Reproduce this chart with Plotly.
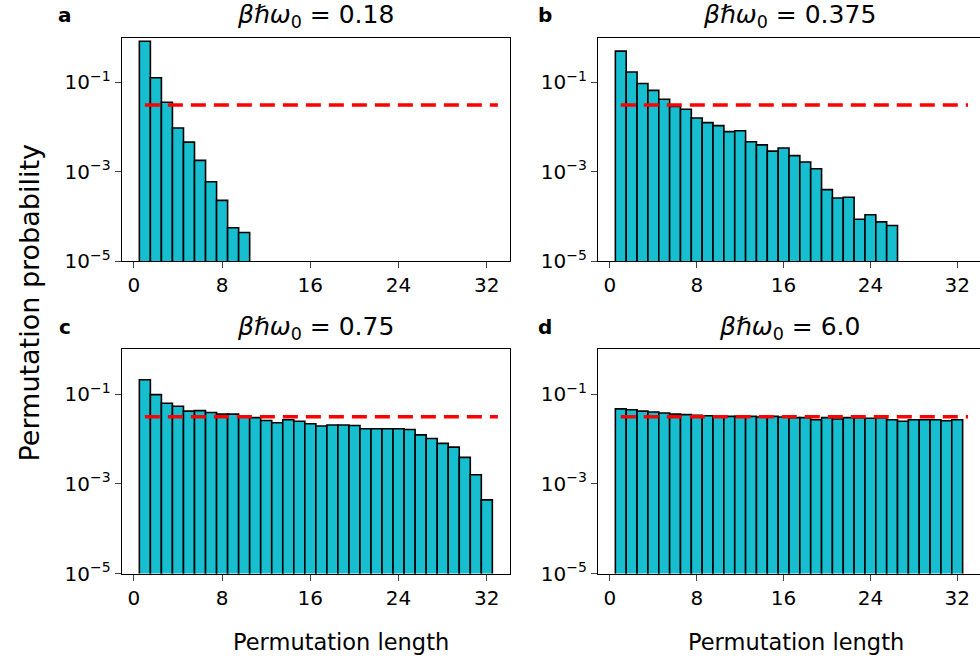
import plotly.graph_objects as go

# Permutation length histograms (probability per cycle length) for four temperatures
lengths_a = list(range(1, 11))
prob_a = [0.83, 0.127, 0.036, 0.0095, 0.0046, 0.0018, 0.0006, 0.00023, 5.6e-5, 4.4e-5]

lengths_b = list(range(1, 27))
prob_b = [0.50, 0.17, 0.094, 0.066, 0.042, 0.029, 0.025, 0.016, 0.0126, 0.0108,
          0.0079, 0.0083, 0.0047, 0.0040, 0.0029, 0.0034, 0.0023, 0.00166, 0.00117,
          0.00040, 0.00026, 0.00027, 8.7e-5, 1.1e-4, 7.6e-5, 6.3e-5]

lengths_c = list(range(1, 33))
prob_c = [0.21, 0.098, 0.063, 0.054, 0.042, 0.043, 0.039, 0.036, 0.036, 0.032,
          0.030, 0.026, 0.023, 0.027, 0.025, 0.022, 0.0196, 0.0206, 0.0206, 0.020,
          0.017, 0.017, 0.017, 0.017, 0.0163, 0.0124, 0.0103, 0.0080, 0.0066,
          0.0039, 0.0016, 0.00044]

lengths_d = list(range(1, 33))
prob_d = [0.047, 0.045, 0.042, 0.040, 0.038, 0.036, 0.035, 0.034, 0.033, 0.033,
          0.032, 0.032, 0.032, 0.031, 0.032, 0.031, 0.030, 0.030, 0.027, 0.030,
          0.028, 0.030, 0.030, 0.029, 0.030, 0.027, 0.025, 0.027, 0.027, 0.027,
          0.0256, 0.027]

# Uniform reference level 1/N for N = 32 particles
n_particles = 32
uniform_x = list(range(1, n_particles + 2))
uniform_y = [1.0 / n_particles] * len(uniform_x)

titles = ["0.18", "0.375", "0.75", "6.0"]
panel_letters = ["a", "b", "c", "d"]
x_ticks = [0, 8, 16, 24, 32]
y_tickvals = [1e-5, 1e-3, 1e-1]
y_ticktext = ["10<sup>\u22125</sup>", "10<sup>\u22123</sup>", "10<sup>\u22121</sup>"]

W, H = 980, 672
BAR_COLOR = "#17becf"
FONT = "DejaVu Sans, Arial, sans-serif"

# panel boxes in pixels: (left, right, top, bottom)
boxes = [
    (121.7, 510.0, 38.3, 266.0),
    (598.0, 980.0, 38.3, 266.0),
    (121.7, 510.0, 355.7, 584.0),
    (598.0, 980.0, 355.7, 584.0),
]

data = [(lengths_a, prob_a), (lengths_b, prob_b), (lengths_c, prob_c), (lengths_d, prob_d)]

fig = go.Figure()
layout = dict(
    width=W, height=H,
    margin=dict(l=0, r=0, t=0, b=0),
    paper_bgcolor="white", plot_bgcolor="white",
    showlegend=False,
    font=dict(family=FONT, size=20, color="black"),
    annotations=[],
)

for i, ((xs, ys), box) in enumerate(zip(data, boxes)):
    k = "" if i == 0 else str(i + 1)
    xa, ya = "x" + k, "y" + k
    fig.add_trace(go.Bar(
        x=xs, y=ys, width=1.0, xaxis=xa, yaxis=ya,
        marker=dict(color=BAR_COLOR, line=dict(color="black", width=1.6)),
    ))
    fig.add_trace(go.Scatter(
        x=uniform_x, y=uniform_y, mode="lines", xaxis=xa, yaxis=ya,
        line=dict(color="red", width=3.5, dash="15px,8px"),
    ))
    left, right, top, bottom = box
    right_edge_open = right >= W
    layout["xaxis" + k] = dict(
        domain=[left / W, min(right / W, 1.0)], anchor=ya,
        range=[-1.1, 34.1], tickvals=x_ticks, ticks="outside", ticklen=6,
        tickwidth=1.3, showline=True, linecolor="black", linewidth=1.3,
        mirror=True, showgrid=False, zeroline=False,
        tickfont=dict(size=20, family=FONT),
    )
    layout["yaxis" + k] = dict(
        domain=[1 - bottom / H, 1 - top / H], anchor=xa,
        type="log", range=[-5, 0], tickvals=y_tickvals, ticktext=y_ticktext,
        ticks="outside", ticklen=6, tickwidth=1.3, showline=True,
        linecolor="black", linewidth=1.3, mirror=not right_edge_open,
        showgrid=False, zeroline=False, tickfont=dict(size=20, family=FONT),
    )
    cx = (left + min(right, 980.0)) / 2
    ty = top - 22
    layout["annotations"].append(dict(
        x=cx / W, y=1 - ty / H, xref="paper", yref="paper", showarrow=False,
        xanchor="center", yanchor="middle",
        text="<i>\u03b2\u210f\u03c9</i><sub>0</sub> = " + titles[i],
        font=dict(size=25, family=FONT),
    ))
    layout["annotations"].append(dict(
        x=(65 if left < 300 else 545) / W, y=1 - (top - 23) / H, xref="paper", yref="paper",
        showarrow=False, xanchor="center", yanchor="middle",
        text="<b>" + panel_letters[i] + "</b>", font=dict(size=20, family=FONT),
    ))

layout["annotations"].append(dict(
    x=29 / W, y=1 - 309 / H, xref="paper", yref="paper", showarrow=False,
    xanchor="center", yanchor="middle", textangle=-90,
    text="Permutation probability", font=dict(size=27, family=FONT),
))
for cx in (341, 796):
    layout["annotations"].append(dict(
        x=cx / W, y=1 - 654 / H, xref="paper", yref="paper", showarrow=False,
        xanchor="center", yanchor="middle",
        text="Permutation length", font=dict(size=22.5, family=FONT),
    ))

fig.update_layout(**layout)
fig.write_html("out.html")
